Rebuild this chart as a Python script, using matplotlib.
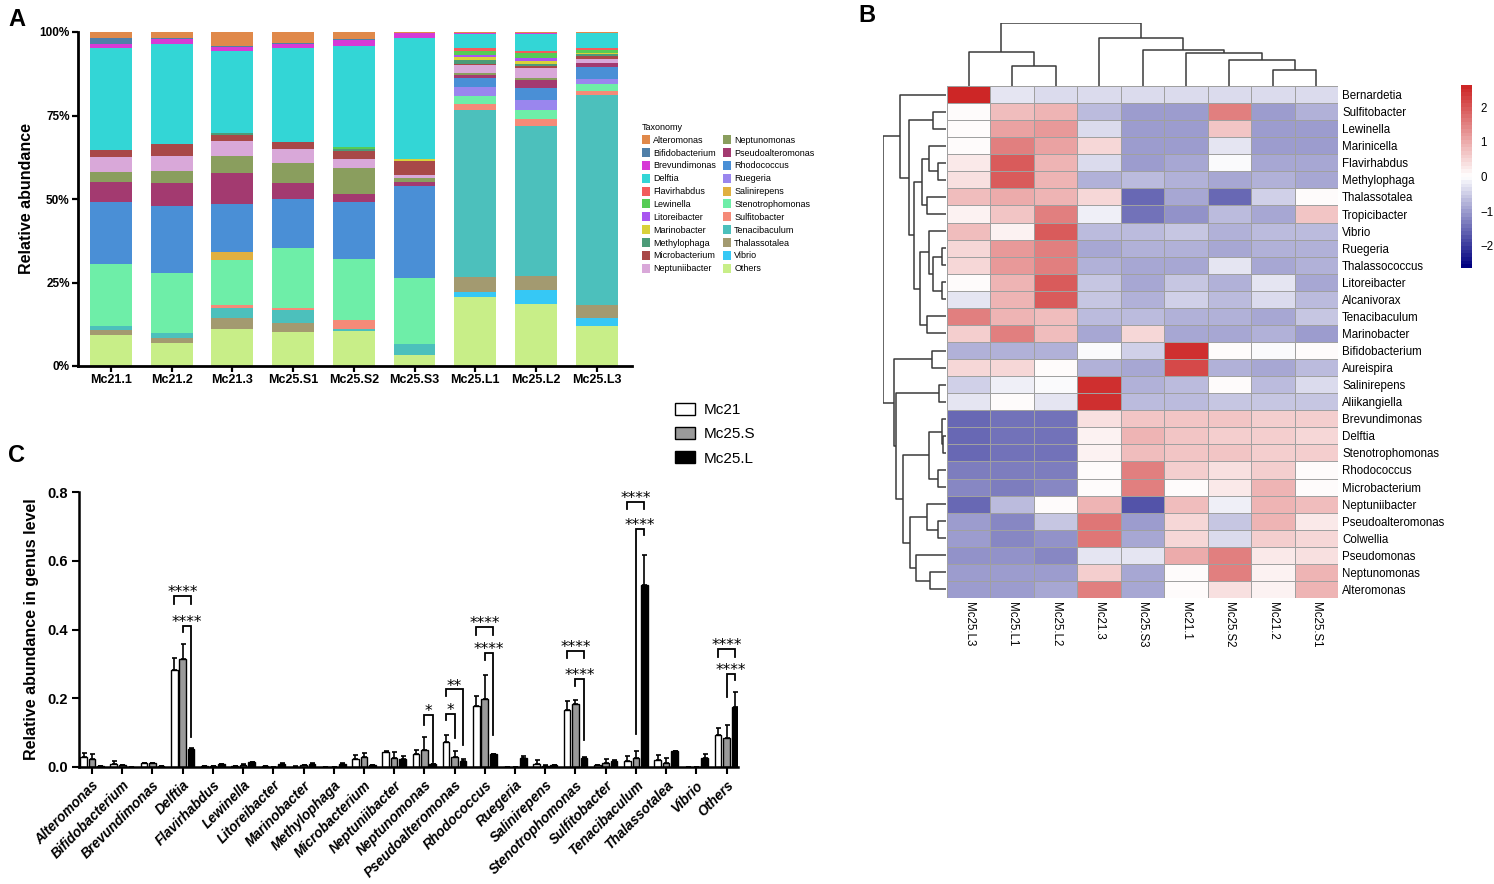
import numpy as np
import matplotlib
matplotlib.use("Agg")
import matplotlib.pyplot as plt
from matplotlib.colors import LinearSegmentedColormap, Normalize
from matplotlib.patches import Patch

plt.rcParams['font.family'] = ['Liberation Sans', 'DejaVu Sans']

# ---------------- panel A: stacked relative abundance (%) ----------------
samples_A = ["Mc21.1", "Mc21.2", "Mc21.3", "Mc25.S1", "Mc25.S2", "Mc25.S3",
             "Mc25.L1", "Mc25.L2", "Mc25.L3"]
taxa = ["Alteromonas", "Bifidobacterium", "Brevundimonas", "Delftia", "Flavirhabdus",
        "Lewinella", "Litoreibacter", "Marinobacter", "Methylophaga", "Microbacterium",
        "Neptuniibacter", "Neptunomonas", "Pseudoalteromonas", "Rhodococcus", "Ruegeria",
        "Salinirepens", "Stenotrophomonas", "Sulfitobacter", "Tenacibaculum",
        "Thalassotalea", "Vibrio", "Others"]
taxa_colors = ["#E0894A", "#4F7FA8", "#D63AD6", "#33D6D6", "#F25C5C", "#55CC55",
               "#A855F0", "#D9D13A", "#4C9B78", "#A84848", "#D9A8D9", "#8A9E5E",
               "#A33A70", "#4A8FD6", "#9A86EE", "#E0B040", "#6EEEA8", "#F58A78",
               "#4CC0BC", "#A39A70", "#36C8F5", "#C8EE88"]

# values in taxa order
mc21_1 = [1.7, 1.8, 1.2, 30.6, 0, 0, 0, 0, 0, 2.2, 4.4, 3.0, 5.9, 18.7, 0, 0, 18.5, 0, 1.3, 1.3, 0, 9.4]
mc21_2 = [1.7, 0.4, 1.4, 30.0, 0, 0, 0, 0, 0, 3.6, 4.4, 3.6, 7.0, 20.0, 0, 0, 18.0, 0, 1.4, 1.6, 0, 6.9]
mc21_3 = [4.3, 0.2, 1.3, 24.3, 0, 0, 0, 0, 0.7, 1.9, 4.4, 5.1, 9.3, 14.5, 0, 2.3, 13.5, 0.7, 3.0, 3.5, 0, 11.0]
mc25_s1 = [3.4, 0.2, 1.3, 28.1, 0, 0, 0, 0, 0, 2.0, 4.3, 5.8, 4.9, 14.6, 0, 0, 17.9, 0.6, 3.9, 2.7, 0, 10.3]
mc25_s2 = [2.1, 0.4, 1.6, 30.2, 0, 0.6, 0, 0, 0.6, 2.4, 2.9, 7.7, 2.3, 17.3, 0, 0, 18.2, 2.5, 0.7, 0, 0, 10.5]
mc25_s3 = [0.3, 0, 1.5, 36.3, 0, 0, 0, 0.6, 0, 4.2, 0.9, 1.2, 1.0, 27.6, 0, 0, 19.7, 0, 3.3, 0, 0, 3.4]
mc25_l1 = [0.2, 0, 0.3, 4.3, 1.0, 1.1, 0.7, 0.9, 1.1, 0.4, 2.3, 0.5, 1.0, 2.8, 2.5, 0, 2.5, 1.7, 50.0, 4.6, 1.4, 20.7]
mc25_l2 = [0.2, 0, 0.3, 5.2, 0.6, 1.4, 1.0, 0.8, 0.8, 0.5, 3.0, 0.5, 2.5, 3.5, 3.0, 0, 2.7, 2.0, 45.1, 4.2, 4.0, 18.7]
mc25_l3 = [0.3, 0, 0, 4.6, 0.6, 0.7, 0, 0.5, 0.6, 0.7, 1.3, 0, 1.3, 3.5, 1.4, 0, 2.3, 1.1, 62.7, 4.0, 2.4, 12.0]

# ---------------- panel B: row z-scores, heatmap ----------------
heat_genera = ["Bernardetia", "Sulfitobacter", "Lewinella", "Marinicella", "Flavirhabdus",
               "Methylophaga", "Thalassotalea", "Tropicibacter", "Vibrio", "Ruegeria",
               "Thalassococcus", "Litoreibacter", "Alcanivorax", "Tenacibaculum",
               "Marinobacter", "Bifidobacterium", "Aureispira", "Salinirepens",
               "Aliikangiella", "Brevundimonas", "Delftia", "Stenotrophomonas",
               "Rhodococcus", "Microbacterium", "Neptuniibacter", "Pseudoalteromonas",
               "Colwellia", "Pseudomonas", "Neptunomonas", "Alteromonas"]
heat_samples = ["Mc25.L3", "Mc25.L1", "Mc25.L2", "Mc21.3", "Mc25.S3", "Mc21.1",
                "Mc25.S2", "Mc21.2", "Mc25.S1"]
z_L3 = [2.6, 0.0, 0.1, 0.05, 0.25, 0.35, 0.75, 0.15, 0.8, 0.5, 0.5, 0.1, -0.25, 1.55, 0.55,
        -0.8, 0.45, -0.5, -0.3, -1.5, -1.5, -1.5, -1.35, -1.2, -1.5, -1.0, -1.05, -1.1, -1.0, -1.0]
z_L1 = [-0.3, 0.8, 1.1, 1.5, 2.0, 2.0, 1.0, 0.7, 0.15, 1.25, 1.25, 0.85, 0.85, 0.9, 1.5,
        -0.8, 0.45, -0.2, 0.0, -1.45, -1.45, -1.45, -1.35, -1.3, -0.65, -1.2, -1.2, -1.15, -1.0, -1.0]
z_L2 = [-0.35, 0.95, 1.2, 1.1, 0.9, 0.85, 0.85, 1.5, 2.0, 1.5, 1.5, 2.0, 2.0, 0.75, 0.75,
        -0.75, 0.0, -0.1, -0.25, -1.4, -1.4, -1.4, -1.3, -1.2, 0.0, -0.6, -1.15, -1.25, -1.05, -0.95]
z_21_3 = [-0.35, -0.7, -0.4, 0.5, -0.4, -0.75, 0.5, -0.15, -0.7, -0.85, -0.8, -0.6, -0.6, -0.7, -0.9,
          -0.05, -0.75, 2.5, 2.5, 0.35, 0.15, 0.15, 0.05, 0.0, 0.85, 1.6, 1.6, -0.3, 0.6, 1.5]
z_S3 = [-0.35, -1.0, -1.0, -1.0, -1.0, -0.7, -1.55, -1.4, -0.7, -0.8, -0.95, -0.85, -0.75, -0.65, 0.5,
        -0.5, -0.85, -0.75, -0.65, 0.7, 0.85, 0.75, 1.5, 1.5, -1.8, -1.0, -0.95, -0.25, -0.95, -0.9]
z_21_1 = [-0.35, -1.0, -1.0, -1.0, -0.9, -0.75, -0.9, -1.15, -0.6, -0.75, -0.9, -0.6, -0.5, -0.8, -0.95,
          2.5, 2.2, -0.7, -0.65, 0.65, 0.7, 0.7, 0.55, 0.0, 0.8, 0.5, 0.5, 1.0, 0.0, 0.0]
z_S2 = [-0.35, 1.5, 0.7, -0.3, -0.05, -0.85, -1.5, -0.7, -0.75, -0.85, -0.25, -0.75, -0.7, -0.75, -0.85,
        0.08, -0.8, 0.0, -0.6, 0.65, 0.6, 0.65, 0.35, 0.3, -0.2, -0.6, -0.35, 1.5, 1.5, 0.4]
z_21_2 = [-0.35, -1.0, -1.05, -1.0, -0.9, -0.8, -0.5, -0.95, -0.7, -0.8, -0.85, -0.3, -0.35, -0.85, -0.8,
          -0.05, -0.85, -0.7, -0.6, 0.6, 0.6, 0.6, 0.6, 0.95, 0.95, 0.9, 0.6, 0.25, 0.15, 0.2]
z_S1 = [-0.35, -0.8, -1.0, -1.05, -0.85, -0.85, 0.05, 0.7, -0.7, -0.8, -0.75, -0.85, -0.7, -0.6, -1.0,
        0.0, -0.7, -0.4, -0.6, 0.6, 0.5, 0.6, 0.05, 0.0, 0.8, 0.3, 0.5, 0.4, 0.9, 0.95]

# dendrogram merges (left, right, height); leaves are numbered in display order
row_merges = [(20, 21, 10), (19, 30, 13), (22, 23, 23), (31, 32, 50), (25, 26, 23),
              (24, 34, 58), (28, 29, 48), (27, 36, 90), (35, 37, 110), (33, 38, 130),
              (17, 18, 20), (40, 39, 150), (15, 16, 43), (42, 41, 158), (1, 2, 38),
              (4, 5, 23), (3, 45, 50), (6, 7, 58), (46, 47, 73), (9, 10, 13),
              (11, 12, 13), (49, 50, 38), (8, 51, 50), (13, 14, 58), (52, 53, 78),
              (48, 54, 98), (44, 55, 113), (0, 56, 138), (57, 43, 190)]
col_merges = [(1, 2, 60), (0, 9, 103), (7, 8, 47), (6, 11, 79), (5, 12, 99),
              (4, 13, 110), (3, 14, 145), (10, 15, 190)]

# ---------------- panel C: group means and SD ----------------
mc21_mean = [0.029, 0.009, 0.011, 0.282, 0.002, 0.003, 0.002, 0.001, 0.0005, 0.024, 0.044,
             0.039, 0.073, 0.177, 0.001, 0.008, 0.167, 0.005, 0.018, 0.021, 0.001, 0.092]
mc21_sd = [0.012, 0.008, 0.002, 0.034, 0.001, 0.001, 0.001, 0.001, 0.0, 0.010, 0.003,
           0.011, 0.019, 0.029, 0.0, 0.011, 0.025, 0.002, 0.013, 0.014, 0.0, 0.022]
mc25s_mean = [0.023, 0.005, 0.011, 0.314, 0.002, 0.006, 0.001, 0.005, 0.001, 0.028, 0.027,
              0.050, 0.029, 0.198, 0.001, 0.003, 0.183, 0.011, 0.027, 0.012, 0.001, 0.083]
mc25s_sd = [0.014, 0.002, 0.001, 0.044, 0.001, 0.004, 0.0, 0.002, 0.0, 0.013, 0.017,
            0.036, 0.019, 0.069, 0.0, 0.002, 0.011, 0.011, 0.019, 0.013, 0.0, 0.040]
mc25l_mean = [0.003, 0.001, 0.004, 0.051, 0.009, 0.014, 0.010, 0.010, 0.010, 0.005, 0.024,
              0.008, 0.017, 0.037, 0.027, 0.005, 0.027, 0.017, 0.530, 0.046, 0.027, 0.174]
mc25l_sd = [0.0, 0.0, 0.0, 0.003, 0.001, 0.002, 0.001, 0.001, 0.001, 0.001, 0.009,
            0.001, 0.006, 0.002, 0.004, 0.001, 0.001, 0.004, 0.087, 0.002, 0.012, 0.045]
groups_C = ["Mc21", "Mc25.S", "Mc25.L"]

# significance brackets: genus, bar from, bar to, bracket y, leg ends, label
sig_genus = ["Delftia", "Delftia", "Neptunomonas", "Pseudoalteromonas", "Pseudoalteromonas",
             "Rhodococcus", "Rhodococcus", "Stenotrophomonas", "Stenotrophomonas",
             "Tenacibaculum", "Tenacibaculum", "Others", "Others"]
sig_from = [0, 1, 1, 0, 0, 0, 1, 0, 1, 0, 1, 0, 1]
sig_to = [2, 2, 2, 2, 1, 2, 2, 2, 2, 2, 2, 2, 2]
sig_y = [0.498, 0.411, 0.151, 0.2255, 0.154, 0.408, 0.332, 0.337, 0.257, 0.771, 0.693, 0.343, 0.270]
sig_left_end = [0.474, 0.394, 0.122, 0.206, 0.138, 0.384, 0.311, 0.316, 0.235, 0.751, 0.097, 0.321, 0.204]
sig_right_end = [0.474, 0.087, 0.015, 0.063, 0.083, 0.384, 0.092, 0.316, 0.078, 0.751, 0.675, 0.321, 0.253]
sig_text = ["****", "****", "*", "**", "*", "****", "****", "****", "****", "****", "****", "****", "****"]

W, H = 1494, 884
fig = plt.figure(figsize=(W / 100, H / 100), dpi=100)


def box(x0, y0, x1, y1):
    # pixel box (top-left origin) -> figure fraction rect
    return [x0 / W, 1 - y1 / H, (x1 - x0) / W, (y1 - y0) / H]


# ======== A ========
axA = fig.add_axes(box(78, 32, 632, 366))
stack = np.array([mc21_1, mc21_2, mc21_3, mc25_s1, mc25_s2, mc25_s3, mc25_l1, mc25_l2, mc25_l3]).T
xA = np.arange(len(samples_A))
bottom = np.zeros(len(samples_A))
handles = {}
for i in range(len(taxa) - 1, -1, -1):
    axA.bar(xA, stack[i], 0.69, bottom=bottom, color=taxa_colors[i], linewidth=0)
    handles[taxa[i]] = Patch(facecolor=taxa_colors[i], label=taxa[i])
    bottom += stack[i]
axA.set_xlim(-0.54, 8.58)
axA.set_ylim(0, 100)
axA.set_yticks([0, 25, 50, 75, 100])
axA.set_yticklabels(["0%", "25%", "50%", "75%", "100%"], fontweight='bold', fontsize=8.5)
axA.set_xticks(xA)
axA.set_xticklabels(samples_A, fontweight='bold', fontsize=9)
axA.set_ylabel("Relative abundance", fontweight='bold', fontsize=11.5, labelpad=4)
for s in ['top', 'right']:
    axA.spines[s].set_visible(False)
for s in ['left', 'bottom']:
    axA.spines[s].set_linewidth(2)
axA.tick_params(width=1.6, length=4, pad=2)

fig.legend(handles=[handles[t] for t in taxa], loc='upper left',
           bbox_to_anchor=(642 / W, 1 - 123 / H), ncol=2, fontsize=6.5,
           title="Taxonomy", title_fontsize=6.5, frameon=False, borderpad=0,
           handlelength=0.9, handleheight=1.15, handletextpad=0.35,
           labelspacing=0.365, columnspacing=0.75, borderaxespad=0, alignment='left')

# ======== B ========
axH = fig.add_axes(box(947, 86, 1338, 598))
zmat = np.column_stack([z_L3, z_L1, z_L2, z_21_3, z_S3, z_21_1, z_S2, z_21_2, z_S1])
cmap = LinearSegmentedColormap.from_list("pheat", ["#000080", "#FFFFFF", "#CD2626"], N=50)
norm = Normalize(vmin=-2.65, vmax=2.65)
mesh = axH.pcolormesh(zmat, cmap=cmap, norm=norm, edgecolors='#a0a0a0', linewidth=0.6)
axH.set_xlim(0, len(heat_samples))
axH.set_ylim(len(heat_genera), 0)
axH.yaxis.tick_right()
axH.set_yticks(np.arange(len(heat_genera)) + 0.5)
axH.set_yticklabels(heat_genera, fontsize=8.3)
axH.set_xticks(np.arange(len(heat_samples)) + 0.5)
axH.set_xticklabels(heat_samples, fontsize=8.3, rotation=-90, va='top', ha='center')
axH.tick_params(length=0, pad=3)
for s in axH.spines.values():
    s.set_visible(False)


def draw_dendro(ax, merges, n, side):
    pos = {i: i + 0.5 for i in range(n)}
    hgt = {i: 0.0 for i in range(n)}
    for k, (a, b, h) in enumerate(merges):
        xs = [pos[a], pos[a], pos[b], pos[b]]
        ys = [hgt[a], h, h, hgt[b]]
        if side == 'top':
            ax.plot(xs, ys, color='#3a3a3a', lw=1.1, solid_capstyle='butt')
        else:
            ax.plot(ys, xs, color='#3a3a3a', lw=1.1, solid_capstyle='butt')
        pos[n + k] = (pos[a] + pos[b]) / 2
        hgt[n + k] = h
    ax.axis('off')


axDt = fig.add_axes(box(947, 23, 1338, 86))
draw_dendro(axDt, col_merges, len(heat_samples), 'top')
axDt.set_xlim(0, len(heat_samples))
axDt.set_ylim(0, 190)

axDl = fig.add_axes(box(883, 86, 946, 598))
draw_dendro(axDl, row_merges, len(heat_genera), 'left')
axDl.set_xlim(190, 0)
axDl.set_ylim(len(heat_genera), 0)

cax = fig.add_axes(box(1461, 85, 1472, 268))
cb = fig.colorbar(mesh, cax=cax, ticks=[-2, -1, 0, 1, 2])
cb.outline.set_visible(False)
cax.tick_params(length=0, labelsize=8.3, pad=6)

# ======== C ========
axC = fig.add_axes(box(79, 492, 738, 767))
xC = np.arange(len(taxa))
offsets = [-0.28, 0.0, 0.28]
means = [mc21_mean, mc25s_mean, mc25l_mean]
sds = [mc21_sd, mc25s_sd, mc25l_sd]
faces = ['white', '#9a9a9a', 'black']
for g in range(3):
    axC.bar(xC + offsets[g], means[g], 0.22, color=faces[g], edgecolor='black',
            linewidth=1.0, label=groups_C[g], zorder=2)
    axC.errorbar(xC + offsets[g], means[g], yerr=[np.zeros(len(taxa)), sds[g]],
                 fmt='none', ecolor='black', elinewidth=1.2, capsize=1.8, capthick=1.2, zorder=3)
for k in range(len(sig_genus)):
    c = taxa.index(sig_genus[k])
    x0 = c + offsets[sig_from[k]]
    x1 = c + offsets[sig_to[k]]
    axC.plot([x0, x0, x1, x1], [sig_left_end[k], sig_y[k], sig_y[k], sig_right_end[k]],
             color='black', lw=1.3, clip_on=False, solid_joinstyle='miter')
    axC.text((x0 + x1) / 2, sig_y[k] - 0.003, sig_text[k], ha='center', va='baseline',
             fontsize=11, family='DejaVu Sans', clip_on=False)
axC.set_xlim(-0.43, 21.38)
axC.set_ylim(0, 0.8)
axC.set_yticks([0, 0.2, 0.4, 0.6, 0.8])
axC.set_yticklabels(["0.0", "0.2", "0.4", "0.6", "0.8"], fontweight='bold', fontsize=10.5)
axC.set_xticks(xC)
axC.set_xticklabels(taxa, rotation=45, ha='right', va='top', rotation_mode='anchor',
                    fontsize=9.8, fontweight='bold', fontstyle='italic')
axC.set_ylabel("Relative abundance in genus level", fontweight='bold', fontsize=11.5, labelpad=6)
for s in ['top', 'right']:
    axC.spines[s].set_visible(False)
for s in ['left', 'bottom']:
    axC.spines[s].set_linewidth(1.8)
axC.tick_params(width=1.5, length=5, pad=3)

fig.legend(handles=[Patch(facecolor=faces[g], edgecolor='black', linewidth=1.0, label=groups_C[g])
                    for g in range(3)],
           loc='upper left', bbox_to_anchor=(675 / W, 1 - 403 / H), fontsize=11,
           frameon=False, borderpad=0, borderaxespad=0, handlelength=1.3, handleheight=0.8,
           handletextpad=0.6, labelspacing=0.66)

# panel letters
fig.text(8 / W, 1 - 8 / H, "A", fontsize=17, fontweight='bold', va='top')
fig.text(858 / W, 1 - 4 / H, "B", fontsize=17, fontweight='bold', va='top')
fig.text(8 / W, 1 - 444 / H, "C", fontsize=17, fontweight='bold', va='top')

fig.savefig("out.png", dpi=100)
